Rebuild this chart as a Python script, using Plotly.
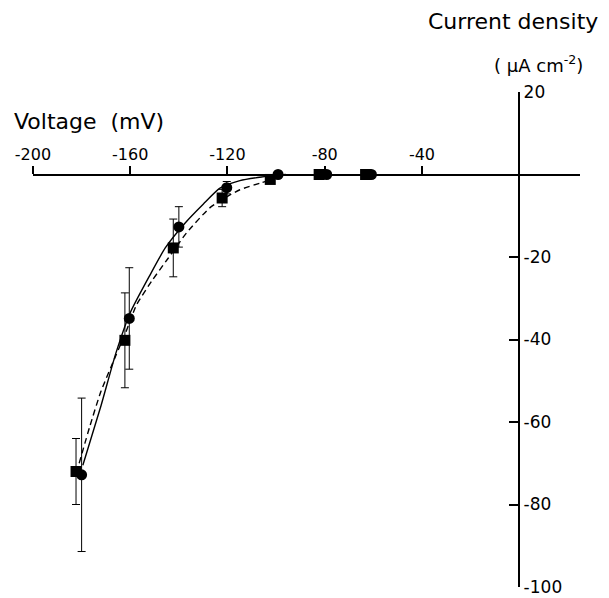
import plotly.graph_objects as go

# ---- data ----
circ_v = [-180.0, -160.4, -140.0, -120.3, -99.2, -79.2, -60.8]
circ_i = [-72.8, -34.9, -12.7, -3.2, 0.0, 0.0, 0.0]
circ_err = [18.6, 12.3, 4.9, 1.5, 0, 0, 0]

sq_v = [-182.3, -162.2, -142.3, -122.2, -102.4, -82.3, -63.2]
sq_i = [-72.0, -40.2, -17.8, -5.7, -1.2, 0.0, 0.0]
sq_err = [8.0, 11.5, 7.0, 2.1, 0, 0, 0]

solid_v = [-179.5, -172.0, -165.9, -160.0, -152.0, -145.6, -137.5, -130.0, -123.1, -114.9, -106.0, -100.0, -96.0]
solid_i = [-70.5, -56.0, -43.3, -33.5, -24.5, -17.8, -11.8, -7.2, -3.3, -1.5, -0.6, -0.2, 0.0]

dash_v = [-181.0, -176.6, -172.0, -166.0, -162.0, -157.4, -151.0, -144.4, -136.9, -127.3, -120.0, -114.9, -106.7, -101.0]
dash_i = [-70.0, -61.0, -52.5, -44.0, -38.5, -31.6, -25.7, -20.3, -14.2, -8.1, -5.3, -3.7, -2.1, -1.2]

x_ticks = [-200, -160, -120, -80, -40]
y_ticks = [-100, -80, -60, -40, -20, 20]

x_range = [-200, 25]
y_range = [-100, 20]

FONT = "DejaVu Sans"

# the page places the figure 8 px in from the top-left corner
OFF = 8
W, H = 609 - OFF, 598 - OFF
L, T = 33 - OFF, 92 - OFF
PW, PH = 547, 495
R, B = W - L - PW, H - T - PH

fig = go.Figure()

fig.add_trace(go.Scatter(x=solid_v, y=solid_i, mode="lines",
                         line=dict(color="black", width=1.4, shape="spline", smoothing=0.6),
                         hoverinfo="skip"))
fig.add_trace(go.Scatter(x=dash_v, y=dash_i, mode="lines",
                         line=dict(color="black", width=1.4, dash="6px,4px", shape="spline", smoothing=0.6),
                         hoverinfo="skip"))

fig.add_trace(go.Scatter(x=sq_v, y=sq_i, mode="markers",
                         marker=dict(symbol="square", size=11, color="black"),
                         error_y=dict(type="data", array=sq_err, color="black", thickness=1, width=4)))
fig.add_trace(go.Scatter(x=circ_v, y=circ_i, mode="markers",
                         marker=dict(symbol="circle", size=11, color="black"),
                         error_y=dict(type="data", array=circ_err, color="black", thickness=1, width=4)))

x_pos = (0 - y_range[0]) / (y_range[1] - y_range[0])
y_pos = (0 - x_range[0]) / (x_range[1] - x_range[0])

fig.update_layout(
    width=W, height=H,
    margin=dict(l=L, r=R, t=T, b=B, pad=0),
    paper_bgcolor="white", plot_bgcolor="white",
    showlegend=False,
    font=dict(family=FONT, color="black"),
    xaxis=dict(range=x_range, anchor="free", position=x_pos, side="top",
               showline=True, linecolor="black", linewidth=2,
               ticks="outside", ticklen=8, tickwidth=1.5, tickcolor="black",
               tickvals=x_ticks, ticktext=[str(v) for v in x_ticks],
               tickfont=dict(size=16, family=FONT, color="black"),
               ticklabelstandoff=-1,
               showgrid=False, zeroline=False, automargin=False),
    yaxis=dict(range=y_range, anchor="free", position=y_pos, side="right",
               showline=True, linecolor="black", linewidth=2,
               ticks="inside", ticklen=9, tickwidth=1.5, tickcolor="black",
               tickvals=y_ticks, ticktext=[str(v) for v in y_ticks],
               tickfont=dict(size=17, family=FONT, color="black"),
               ticklabelstandoff=0,
               showgrid=False, zeroline=False, automargin=False),
)


def px_x(px):
    return (px - OFF - L) / PW


def px_y(py):
    return 1 + (T - (py - OFF)) / PH


fig.add_annotation(text="Voltage  (mV)", xref="paper", yref="paper",
                   x=px_x(11.7), y=px_y(121), xanchor="left", yanchor="middle",
                   showarrow=False, font=dict(size=22, family=FONT, color="black"))
fig.add_annotation(text="Current density", xref="paper", yref="paper",
                   x=px_x(512.6), y=px_y(22), xanchor="center", yanchor="middle",
                   showarrow=False, font=dict(size=22, family=FONT, color="black"))
fig.add_annotation(text="( μA cm<sup>-2</sup>)", xref="paper", yref="paper",
                   x=px_x(538.7), y=px_y(64), xanchor="center", yanchor="middle",
                   showarrow=False, font=dict(size=18, family=FONT, color="black"))

fig.write_html("out.html")
